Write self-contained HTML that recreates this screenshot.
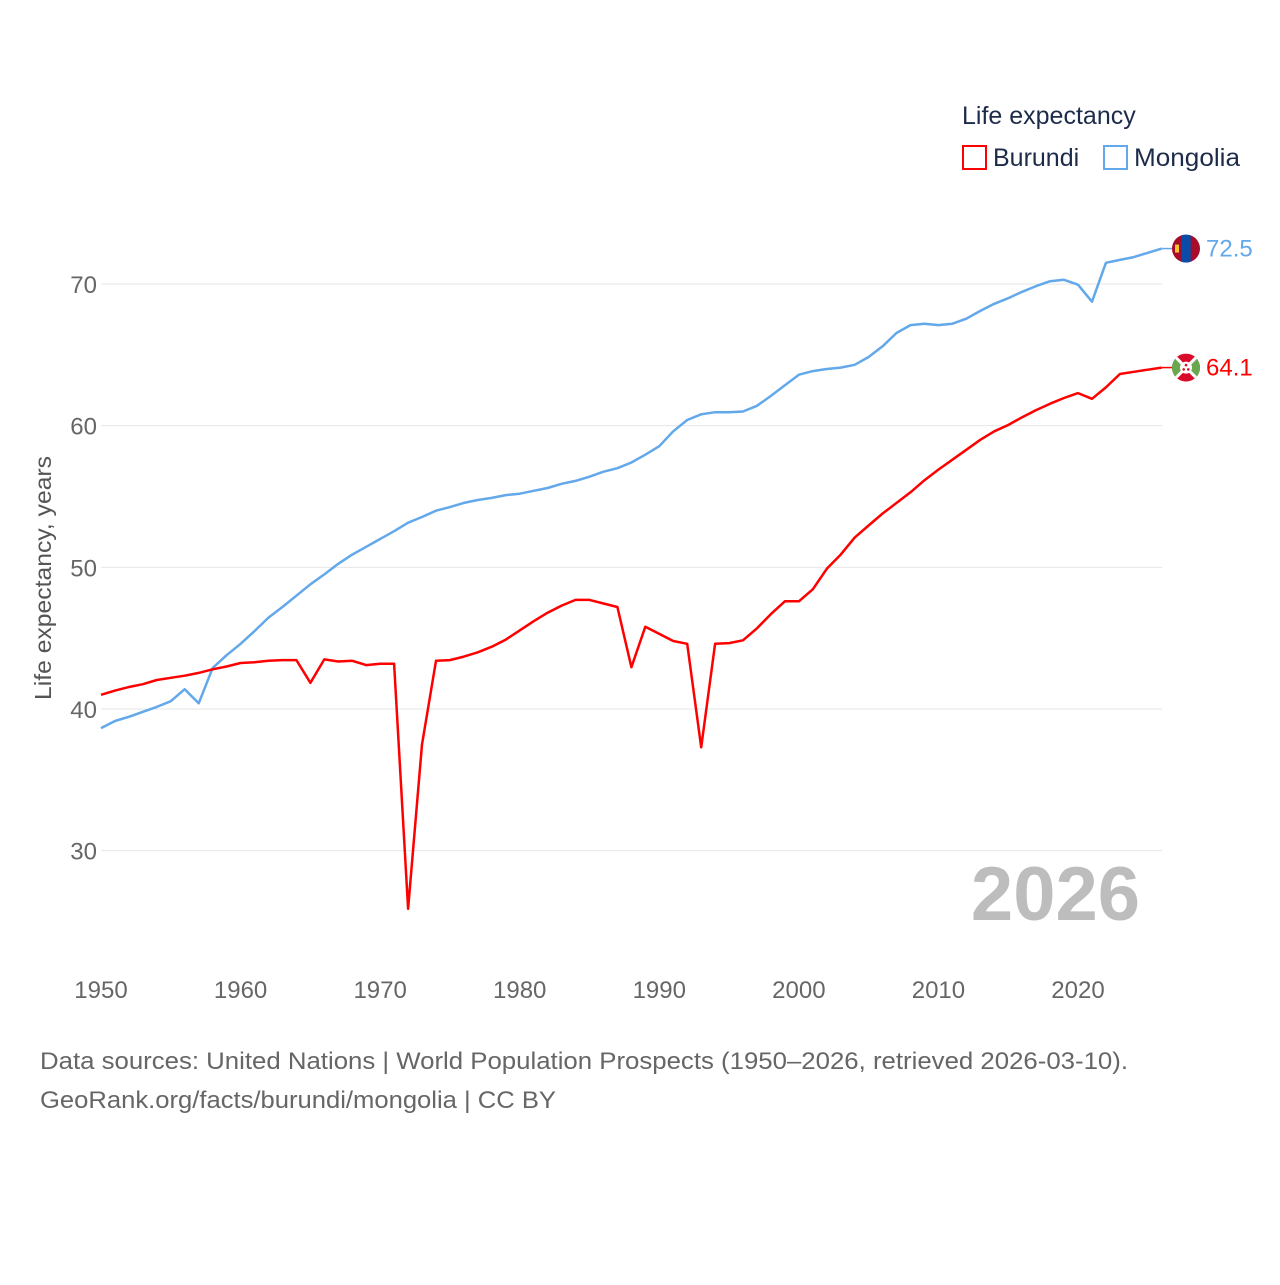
<!DOCTYPE html>
<html><head><meta charset="utf-8"><style>
body{margin:0;background:#fff;font-family:"Liberation Sans",sans-serif}
svg text{font-family:"Liberation Sans",sans-serif}
</style></head><body>
<svg id="chart" width="1280" height="1280" xmlns="http://www.w3.org/2000/svg">
<g id="grid"></g>
<g id="yticks"></g>
<g id="xticks"></g>
<text transform="translate(51,578) rotate(-90)" text-anchor="middle" font-size="23" fill="#555" textLength="244" lengthAdjust="spacingAndGlyphs">Life expectancy, years</text>
<text x="1140" y="920" text-anchor="end" font-size="76" font-weight="bold" fill="#bdbdbd">2026</text>
<g>
<text x="962" y="124" font-size="25" fill="#1d2b4a">Life expectancy</text>
<rect x="963" y="146" width="23" height="23" fill="none" stroke="#f00" stroke-width="2"/>
<text x="993" y="166" font-size="25" fill="#1d2b4a">Burundi</text>
<rect x="1104" y="146" width="23" height="23" fill="none" stroke="#62a8ea" stroke-width="2"/>
<text x="1134" y="166" font-size="25" fill="#1d2b4a" textLength="106" lengthAdjust="spacingAndGlyphs">Mongolia</text>
</g>
<path id="lineM" fill="none" stroke="#62a8ea" stroke-width="2.5" stroke-linejoin="round"/>
<path id="lineB" fill="none" stroke="#f00" stroke-width="2.5" stroke-linejoin="round"/>
<g id="ends"></g>
<text x="40" y="1069" font-size="24" fill="#666" textLength="1088" lengthAdjust="spacingAndGlyphs">Data sources: United Nations | World Population Prospects (1950–2026, retrieved 2026-03-10).</text>
<text x="40" y="1108" font-size="24" fill="#666" textLength="516" lengthAdjust="spacingAndGlyphs">GeoRank.org/facts/burundi/mongolia | CC BY</text>
</svg>
<script>
const years = [];
for (let y = 1950; y <= 2026; y++) years.push(y);
const burundi = [41.0,41.3,41.55,41.75,42.05,42.2,42.35,42.55,42.8,43.0,43.25,43.3,43.4,43.45,43.45,41.85,43.5,43.35,43.4,43.1,43.2,43.2,25.9,37.5,43.4,43.45,43.7,44.0,44.4,44.9,45.55,46.2,46.8,47.3,47.7,47.7,47.45,47.2,42.95,45.8,45.3,44.8,44.6,37.3,44.6,44.65,44.85,45.7,46.7,47.6,47.6,48.45,49.9,50.9,52.1,52.95,53.8,54.55,55.3,56.15,56.9,57.6,58.3,59.0,59.6,60.05,60.6,61.1,61.55,61.95,62.3,61.9,62.7,63.65,63.8,63.95,64.1];
const mongolia = [38.65,39.15,39.45,39.8,40.15,40.55,41.4,40.4,42.9,43.8,44.6,45.5,46.45,47.2,48.0,48.8,49.5,50.25,50.9,51.45,52.0,52.55,53.15,53.55,54.0,54.25,54.55,54.75,54.9,55.1,55.2,55.4,55.6,55.9,56.1,56.4,56.75,57.0,57.4,57.95,58.55,59.6,60.4,60.8,60.95,60.95,61.0,61.4,62.1,62.85,63.6,63.85,64.0,64.1,64.3,64.85,65.6,66.55,67.1,67.2,67.1,67.2,67.55,68.1,68.6,69.0,69.45,69.85,70.2,70.3,69.95,68.75,71.5,71.7,71.9,72.2,72.5];
const yTicks = [30,40,50,60,70];
const xTicks = [1950,1960,1970,1980,1990,2000,2010,2020];
const NS = "http://www.w3.org/2000/svg";
const xS = y => 101 + (y - 1950) * (1078 - 101) / 70;
const yS = v => 709 - (v - 40) * (709 - 284) / 30;
function mk(tag, attrs, parent, txt) {
  const e = document.createElementNS(NS, tag);
  for (const k in attrs) e.setAttribute(k, attrs[k]);
  if (txt !== undefined) e.textContent = txt;
  parent.appendChild(e); return e;
}
const grid = document.getElementById('grid'), yt = document.getElementById('yticks'), xt = document.getElementById('xticks');
yTicks.forEach(v => {
  const l = mk('line', {x1: 101, x2: 1162, y1: yS(v), y2: yS(v), stroke: '#e6e6e6', 'stroke-width': 1}, grid);
  
  
  const t = mk('text', {x: 97, y: yS(v) + 9, 'text-anchor': 'end', 'font-size': 24, fill: '#666'}, yt, String(v));
  
  
});
xTicks.forEach(v => {
  const t = mk('text', {x: xS(v), y: 998, 'text-anchor': 'middle', 'font-size': 24, fill: '#666'}, xt, String(v));
  
  
});
const path = arr => arr.map((v, i) => (i ? 'L' : 'M') + xS(years[i]).toFixed(1) + ',' + yS(v).toFixed(1)).join('');
document.getElementById('lineB').setAttribute('d', path(burundi));
document.getElementById('lineM').setAttribute('d', path(mongolia));
const ends = document.getElementById('ends');
function endLabel(arr, color, name, flag) {
  const v = arr[arr.length - 1], x = xS(years[years.length - 1]), y = yS(v);
  const ln = mk('line', {x1: x, x2: 1174, y1: y, y2: y, stroke: color, 'stroke-width': 1.5}, ends);
  
  
  const g = mk('g', {}, ends);
  
  
  const cx = 1186, cy = y;
  const clip = mk('clipPath', {id: 'c' + name}, g);
  mk('circle', {cx, cy, r: 14}, clip);
  const f = mk('g', {'clip-path': 'url(#c' + name + ')'}, g);
  if (flag === 'mn') {
    mk('rect', {x: cx - 14, y: cy - 14, width: 28, height: 28, fill: '#a50d2a'}, f);
    mk('rect', {x: cx - 4.7, y: cy - 14, width: 9.4, height: 28, fill: '#0a4ca8'}, f);
    mk('rect', {x: cx - 11, y: cy - 4, width: 4, height: 8, fill: '#f6c530'}, f);
  } else {
    mk('rect', {x: cx - 14, y: cy - 14, width: 28, height: 28, fill: '#d90b2a'}, f);
    mk('polygon', {points: `${cx-14},${cy-12} ${cx},${cy} ${cx-14},${cy+12}`, fill: '#6aa84f'}, f);
    mk('polygon', {points: `${cx+14},${cy-12} ${cx},${cy} ${cx+14},${cy+12}`, fill: '#6aa84f'}, f);
    mk('line', {x1: cx-14, y1: cy-14, x2: cx+14, y2: cy+14, stroke: '#fff', 'stroke-width': 3}, f);
    mk('line', {x1: cx+14, y1: cy-14, x2: cx-14, y2: cy+14, stroke: '#fff', 'stroke-width': 3}, f);
    mk('circle', {cx, cy, r: 6, fill: '#fff'}, f);
    mk('circle', {cx, cy: cy - 2.5, r: 1.3, fill: '#d90b2a'}, f);
    mk('circle', {cx: cx - 2.3, cy: cy + 1.8, r: 1.3, fill: '#d90b2a'}, f);
    mk('circle', {cx: cx + 2.3, cy: cy + 1.8, r: 1.3, fill: '#d90b2a'}, f);
  }
  const t = mk('text', {x: 1206, y: y + 8, 'font-size': 24, fill: color}, ends, v.toFixed(1));
  
  
}
endLabel(mongolia, '#62a8ea', 'mongolia', 'mn');
endLabel(burundi, '#f00', 'burundi', 'bi');
</script>
</body></html>
